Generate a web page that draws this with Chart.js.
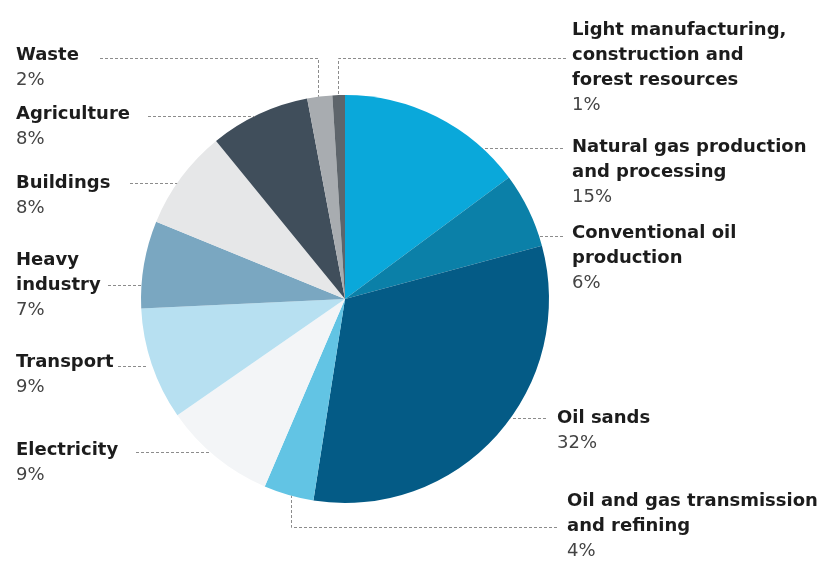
<!DOCTYPE html>
<html>
<head>
<meta charset="utf-8">
<title>Emissions by sector</title>
<script src="https://cdn.jsdelivr.net/npm/chart.js@4.4.1/dist/chart.umd.min.js"></script>
<style>
  html, body { margin: 0; padding: 0; background: #fff; }
  #wrap { width: 822px; height: 561px; position: relative; }
</style>
</head>
<body>
<div id="wrap"><canvas id="sectorPie" width="822" height="561"></canvas></div>
<script>
// Sector shares (%), clockwise from 12 o'clock
const sectors = [
    'Natural gas production and processing',
    'Conventional oil production',
    'Oil sands',
    'Oil and gas transmission and refining',
    'Electricity',
    'Transport',
    'Heavy industry',
    'Buildings',
    'Agriculture',
    'Waste',
    'Light manufacturing, construction and forest resources'
];
const shares = [15, 6, 32, 4, 9, 9, 7, 8, 8, 2, 1];

const sliceColors = [
    '#0aa8da', '#0b80a8', '#045b86', '#62c4e4', '#f3f5f7', '#b7e0f1',
    '#7aa7c1', '#e6e7e8', '#404e5b', '#a8acb0', '#5e656b'
];

// Where each label sits and how its dashed leader reaches the pie.
// leader.col: x of the vertical leg (if any) that drops onto the pie edge
const labelLayout = [
    { lines: ['Natural gas production', 'and processing'], x: 572, y: 147, leader: { y: 148, x1: 563 } },
    { lines: ['Conventional oil', 'production'], x: 572, y: 233, leader: { y: 236, x1: 563 } },
    { lines: ['Oil sands'], x: 557, y: 418, leader: { y: 418, x1: 546 } },
    { lines: ['Oil and gas transmission', 'and refining'], x: 567, y: 501, leader: { y: 527, x1: 557, col: 291 } },
    { lines: ['Electricity'], x: 16, y: 450, leader: { y: 452, x1: 136 } },
    { lines: ['Transport'], x: 16, y: 362, leader: { y: 366, x1: 118, stop: 6 } },
    { lines: ['Heavy', 'industry'], x: 16, y: 260, leader: { y: 285, x1: 108 } },
    { lines: ['Buildings'], x: 16, y: 183, leader: { y: 183, x1: 130 } },
    { lines: ['Agriculture'], x: 16, y: 114, leader: { y: 116, x1: 148 } },
    { lines: ['Waste'], x: 16, y: 55, leader: { y: 58, x1: 100, col: 318 } },
    { lines: ['Light manufacturing,', 'construction and', 'forest resources'], x: 572, y: 30, leader: { y: 58, x1: 566, col: 338 } }
];

const LINE_H = 25;
const FONT_FAMILY = '"DejaVu Sans", Arial, sans-serif';

// Draws the sector names, shares and dashed leader lines
const sectorLabels = {
    id: 'sectorLabels',
    afterDraw(chart) {
        const ctx = chart.ctx;
        const arc = chart.getDatasetMeta(0).data[0];
        const cx = arc.x, cy = arc.y, r = arc.outerRadius;

        ctx.save();
        ctx.strokeStyle = '#8c8c8c';
        ctx.lineWidth = 1;
        ctx.setLineDash([3, 2]);
        labelLayout.forEach(item => {
            const ld = item.leader;
            ctx.beginPath();
            if (ld.col !== undefined) {
                const dy = Math.sqrt(r * r - (ld.col - cx) * (ld.col - cx));
                const edgeY = ld.y < cy ? cy - dy : cy + dy;
                ctx.moveTo(ld.x1, ld.y + 0.5);
                ctx.lineTo(ld.col + 0.5, ld.y + 0.5);
                ctx.lineTo(ld.col + 0.5, edgeY);
            } else {
                const dx = Math.sqrt(r * r - (ld.y - cy) * (ld.y - cy));
                const gap = ld.stop || 0;
                const edgeX = ld.x1 < cx ? cx - dx - gap : cx + dx + gap;
                ctx.moveTo(ld.x1, ld.y + 0.5);
                ctx.lineTo(edgeX, ld.y + 0.5);
            }
            ctx.stroke();
        });
        ctx.setLineDash([]);

        ctx.textBaseline = 'middle';
        ctx.textAlign = 'left';
        labelLayout.forEach((item, i) => {
            ctx.fillStyle = '#1c1c1c';
            ctx.font = 'bold 18px ' + FONT_FAMILY;
            item.lines.forEach((line, k) => {
                ctx.fillText(line, item.x, item.y + k * LINE_H);
            });
            ctx.fillStyle = '#444444';
            ctx.font = '18px ' + FONT_FAMILY;
            ctx.fillText(shares[i] + '%', item.x, item.y + item.lines.length * LINE_H);
        });
        ctx.restore();
    }
};

new Chart(document.getElementById('sectorPie'), {
    type: 'pie',
    data: {
        labels: sectors,
        datasets: [{
            data: shares,
            backgroundColor: sliceColors,
            borderWidth: 0
        }]
    },
    options: {
        responsive: false,
        animation: false,
        layout: {
            padding: { top: 95, bottom: 58, left: 141, right: 273 }
        },
        plugins: {
            legend: { display: false },
            tooltip: { enabled: false }
        }
    },
    plugins: [sectorLabels]
});
</script>
</body>
</html>
